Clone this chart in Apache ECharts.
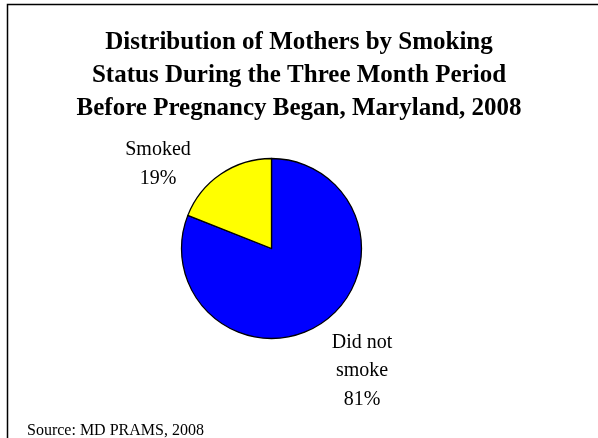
<!DOCTYPE html>
<html>
<head>
<meta charset="utf-8">
<script src="https://cdn.jsdelivr.net/npm/echarts@6/dist/echarts.min.js"></script>
<style>
html,body{margin:0;padding:0;background:#fff;}
#main{width:598px;height:438px;}
</style>
</head>
<body>
<div id="main"></div>
<script>
var titleText = 'Distribution of Mothers by Smoking\nStatus During the Three Month Period\nBefore Pregnancy Began, Maryland, 2008';
var sourceText = 'Source: MD PRAMS, 2008';
var categories = ['Did not\nsmoke', 'Smoked'];
var values = [81, 19];
var colors = ['#0000FF', '#FFFF00'];

var labelSpots = [[362, 371], [158, 164]];

var chart = echarts.init(document.getElementById('main'), null, {renderer: 'canvas'});
chart.setOption({
  backgroundColor: '#ffffff',
  animation: false,
  title: [{
    text: titleText,
    left: 'center',
    top: 21,
    textStyle: {fontFamily: 'Liberation Serif', fontWeight: 'bold', fontSize: 25, lineHeight: 33, color: '#000'}
  }, {
    text: sourceText,
    left: 22,
    top: 418,
    textStyle: {fontFamily: 'Liberation Serif', fontWeight: 'normal', fontSize: 16, color: '#000'}
  }],
  graphic: [{
    type: 'polyline',
    shape: {points: [[7.5, 440], [7.5, 4.5], [600, 4.5]]},
    style: {stroke: '#000', lineWidth: 1.5, fill: null},
    silent: true
  }],
  series: [{
    type: 'pie',
    center: [271.5, 248.5],
    radius: 90,
    startAngle: 90,
    clockwise: true,
    data: categories.map(function (c, i) {
      return {name: c, value: values[i], itemStyle: {color: colors[i]}};
    }),
    itemStyle: {borderColor: '#000', borderWidth: 1.3},
    label: {
      show: true,
      position: 'outside',
      formatter: '{b}\n{c}%',
      fontFamily: 'Liberation Serif',
      fontSize: 20,
      lineHeight: 28.5,
      color: '#000',
      align: 'center'
    },
    labelLine: {show: false},
    labelLayout: function (p) {
      var s = labelSpots[p.dataIndex];
      return {x: s[0], y: s[1], align: 'center', verticalAlign: 'middle'};
    },
    emphasis: {disabled: true}
  }]
});
</script>
</body>
</html>
